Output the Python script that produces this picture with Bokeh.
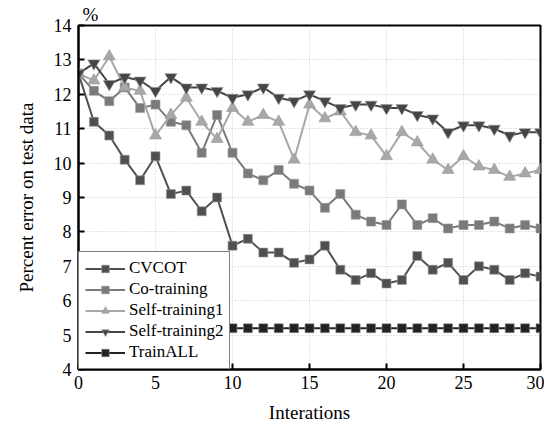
from bokeh.plotting import figure
from bokeh.models import Range1d, FixedTicker, Legend, LegendItem
from bokeh.embed import file_html
from bokeh.resources import INLINE

iters = list(range(31))
cvcot = [12.6, 11.2, 10.8, 10.1, 9.5, 10.2, 9.1, 9.2, 8.6, 9.0, 7.6, 7.8, 7.4, 7.4, 7.1, 7.2,
         7.6, 6.9, 6.6, 6.8, 6.5, 6.6, 7.3, 6.9, 7.1, 6.6, 7.0, 6.9, 6.6, 6.8, 6.7]
cotrain = [12.6, 12.1, 11.8, 12.2, 11.6, 11.7, 11.2, 11.1, 10.3, 11.4, 10.3, 9.7, 9.5, 9.8, 9.4, 9.2,
           8.7, 9.1, 8.5, 8.3, 8.2, 8.8, 8.2, 8.4, 8.1, 8.2, 8.2, 8.3, 8.1, 8.2, 8.1]
self1 = [12.6, 12.4, 13.1, 12.2, 12.1, 10.8, 11.4, 11.9, 11.2, 10.7, 11.6, 11.2, 11.4, 11.2, 10.1, 11.7,
         11.3, 11.5, 10.9, 10.8, 10.2, 10.9, 10.6, 10.1, 9.8, 10.2, 9.9, 9.8, 9.6, 9.7, 9.8]
self2 = [12.6, 12.9, 12.3, 12.5, 12.4, 12.1, 12.5, 12.2, 12.2, 12.1, 11.9, 12.0, 12.2, 11.9, 11.8, 12.0,
         11.8, 11.6, 11.7, 11.7, 11.6, 11.6, 11.4, 11.3, 10.9, 11.1, 11.1, 11.0, 10.8, 10.9, 10.9]
trainall = [5.2] * 31

x_ticks = [0, 5, 10, 15, 20, 25, 30]
y_ticks = [4, 5, 6, 7, 8, 9, 10, 11, 12, 13, 14]

series = [
    ("CVCOT", cvcot, "#505050", "square", 9),
    ("Co-training", cotrain, "#7a7a7a", "square", 9),
    ("Self-training1", self1, "#a8a8a8", "triangle", 12),
    ("Self-training2", self2, "#454545", "inverted_triangle", 12),
    ("TrainALL", trainall, "#222222", "square", 9),
]

FONT = "Liberation Serif"

p = figure(width=537, height=408, output_backend="svg", toolbar_location=None,
           x_range=Range1d(0, 30), y_range=Range1d(4, 14),
           min_border_left=78, min_border_right=4, min_border_top=4, min_border_bottom=10)
p.frame_width = 462
p.frame_height = 344

p.title.text = "%"
p.title.align = "left"
p.title.offset = 4
p.title.text_font = FONT
p.title.text_font_size = "19px"
p.title.text_font_style = "normal"
p.title.text_color = "black"
p.title.standoff = 2

p.outline_line_color = "black"
p.outline_line_width = 2

for ax, ticks in ((p.xaxis[0], x_ticks), (p.yaxis[0], y_ticks)):
    ax.ticker = FixedTicker(ticks=ticks)
    ax.axis_line_width = 2
    ax.axis_line_color = "black"
    ax.major_tick_in = 6
    ax.major_tick_out = 0
    ax.major_tick_line_width = 2
    ax.minor_tick_line_color = None
    ax.major_label_text_font = FONT
    ax.major_label_text_font_size = "18px"
    ax.major_label_text_color = "black"
    ax.axis_label_text_font = FONT
    ax.axis_label_text_font_size = "19px"
    ax.axis_label_text_font_style = "normal"
    ax.axis_label_text_color = "black"

p.xaxis.axis_label = "Interations"
p.yaxis.axis_label = "Percent error on test data"
p.xaxis.major_label_standoff = 6
p.yaxis.major_label_standoff = 7
p.xaxis.axis_label_standoff = 10
p.yaxis.axis_label_standoff = 14

p.xgrid.ticker = FixedTicker(ticks=x_ticks)
p.ygrid.ticker = FixedTicker(ticks=y_ticks)
p.grid.grid_line_color = "#c8c8c8"
p.grid.grid_line_dash = "1 2"
p.grid.grid_line_width = 1

items = []
for name, vals, color, marker, size in series:
    r1 = p.line(iters, vals, line_color=color, line_width=2)
    r2 = p.scatter(iters, vals, marker=marker, size=size, fill_color=color,
                   line_color="#9a9a9a", line_width=0.6)
    items.append(LegendItem(label=name, renderers=[r1, r2]))

legend = Legend(items=items, location="bottom_left", margin=0,
                border_line_color="black", border_line_width=1,
                background_fill_color="white", background_fill_alpha=1,
                label_text_font=FONT, label_text_font_size="17px",
                label_text_color="black", glyph_width=40, glyph_height=19,
                spacing=1, padding=6, label_standoff=4, label_height=19)
p.add_layout(legend, "center")

open("out.html", "w").write(file_html(p, INLINE))
